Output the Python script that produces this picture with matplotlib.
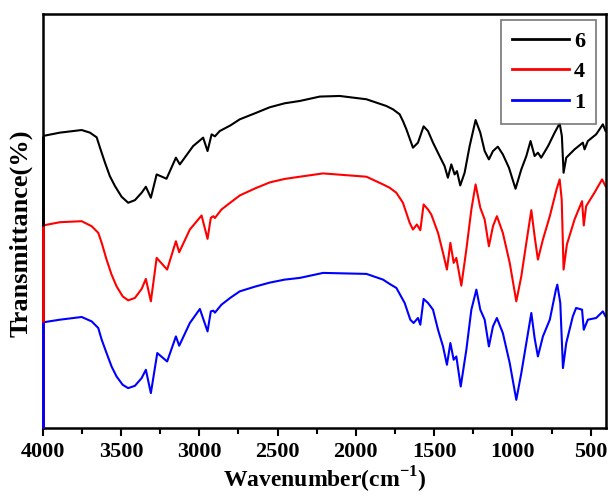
import matplotlib
matplotlib.use('Agg')
import matplotlib.pyplot as plt
from matplotlib.ticker import MultipleLocator

plt.rcParams['font.family'] = ['Liberation Serif', 'DejaVu Serif']
plt.rcParams['font.weight'] = 'bold'
plt.rcParams['mathtext.fontset'] = 'custom'
plt.rcParams['mathtext.rm'] = 'Liberation Serif:bold'
plt.rcParams['mathtext.bf'] = 'Liberation Serif:bold'

# FTIR spectra, transmittance in arbitrary units (curves offset as in the figure)
wn_6 = [4000, 3890, 3751, 3698, 3655, 3634, 3602, 3571, 3538, 3496, 3454, 3411, 3368,
        3341, 3309, 3272, 3209, 3149, 3124, 3039, 2975, 2947, 2921, 2900, 2869, 2800,
        2741, 2644, 2550, 2454, 2358, 2230, 2103, 1932, 1805, 1763, 1720, 1699, 1677,
        1635, 1603, 1567, 1539, 1507, 1465, 1433, 1412, 1390, 1369, 1354, 1333, 1305,
        1273, 1235, 1205, 1177, 1150, 1124, 1093, 1061, 1022, 980, 943, 911, 884, 858,
        837, 816, 772, 730, 698, 684, 673, 656, 603, 550, 539, 518, 465, 422, 405]
t_6 = [291.3, 294.7, 297.3, 294.7, 290, 279.7, 264.7, 251.3, 241.3, 230.7, 224.7, 227.3, 234.7,
       240.7, 229.7, 253, 248.7, 269.7, 263, 281.3, 289.7, 276.3, 293, 291, 296.3, 302,
       308, 314, 320, 324, 326.3, 330.7, 331.3, 328, 321.3, 318, 313, 306.3, 298,
       279.7, 284.7, 301, 296.3, 284.7, 271.3, 261.3, 249.7, 263, 253, 256.3, 242, 254.7,
       281.3, 307.3, 294.7, 276.3, 268, 276.3, 280.7, 273, 259.7, 238.7, 258, 271.3, 286.3, 271.3,
       274.7, 269.7, 281.3, 294.7, 304, 291.3, 254.7, 269.7, 278, 284.7, 278, 286.3, 293, 303, 296.3]

wn_4 = [4000, 3890, 3751, 3687, 3645, 3623, 3592, 3560, 3528, 3489, 3454, 3411, 3368,
        3341, 3309, 3272, 3205, 3149, 3128, 3060, 2985, 2947, 2926, 2910, 2900, 2858,
        2800, 2741, 2644, 2550, 2454, 2358, 2209, 1932, 1826, 1784, 1741, 1699, 1656,
        1635, 1610, 1588, 1567, 1539, 1518, 1475, 1443, 1418, 1396, 1375, 1358, 1326,
        1294, 1262, 1235, 1205, 1177, 1150, 1124, 1099, 1061, 1017, 975, 943, 911, 879,
        858, 837, 805, 761, 718, 698, 685, 673, 652, 603, 555, 544, 529, 476, 427, 405]
t_4 = [202, 205.3, 206.3, 201.3, 194.7, 184.7, 168, 153, 141.3, 131.3, 127.3, 129.7, 138.7,
       148.7, 126.3, 169.7, 158, 186.3, 175.3, 198, 212, 188.7, 209.7, 211.3, 209.5, 218,
       225, 232, 239, 245, 248.5, 250.7, 254, 250.7, 243, 239.7, 234.7, 224.7, 204.7,
       198, 203, 197.3, 223, 218, 213, 194.7, 174.7, 158, 184.7, 164.7, 169.7, 142,
       178, 218, 243, 219.7, 208, 181.3, 201.3, 211.3, 194.7, 164.7, 126.3, 151.3, 184.7, 217.3,
       191.3, 168, 188, 211.3, 238, 248, 228, 158, 183, 208, 226.3, 202, 221.3, 234.7, 248, 241.3]

wn_1 = [4000, 3890, 3751, 3687, 3645, 3623, 3592, 3560, 3528, 3489, 3454, 3411, 3368,
        3341, 3309, 3268, 3205, 3149, 3128, 3060, 2996, 2947, 2926, 2910, 2900, 2858,
        2800, 2741, 2644, 2550, 2454, 2358, 2209, 1932, 1826, 1784, 1741, 1688, 1652,
        1631, 1603, 1588, 1567, 1539, 1507, 1475, 1443, 1418, 1396, 1375, 1358, 1330,
        1294, 1262, 1230, 1205, 1177, 1150, 1124, 1099, 1061, 1017, 975, 943, 911, 879,
        858, 837, 805, 761, 722, 713, 694, 677, 656, 614, 593, 555, 544, 518, 465, 422, 405]
t_1 = [105.3, 108, 110.7, 106.3, 99.7, 88, 74.7, 61.3, 51.3, 43, 39.7, 42, 49.7,
       58, 34.7, 74.7, 66.3, 91.3, 82, 104.7, 118.7, 96.3, 116.3, 117, 115, 123,
       130, 136.3, 141, 145, 148, 149.7, 154.7, 153.7, 148, 143.7, 139.7, 124.7, 108,
       104.7, 109.7, 103, 128.7, 124.7, 118, 98, 81.3, 63, 84.7, 68, 71.3, 41.3,
       78, 118, 138, 118, 108, 81.3, 101.3, 109.7, 94.7, 64.7, 28, 54.7, 84.7, 114.7,
       89.7, 71.3, 91.3, 108, 138, 143, 124.7, 59.7, 84.7, 111.3, 119.7, 118, 98, 108, 109.7, 116.3, 111.3]

labels = ['6', '4', '1']
colors = ['black', 'red', 'blue']

fig = plt.figure(figsize=(6.14, 5.04), dpi=100)
ax = fig.add_axes([0.0695, 0.151, 0.918, 0.821])

for wn, t, lab, c in zip([wn_6, wn_4, wn_1], [t_6, t_4, t_1], labels, colors):
    ax.plot(wn, t, color=c, lw=1.5, label=lab)
    # the original draws each trace down the left axis to the baseline
    ax.vlines(wn[0], 0, t[0], color=c, lw=2, clip_on=False, zorder=3)

ax.set_xlim(4000, 400)
ax.set_ylim(0, 413)
ax.xaxis.set_major_locator(MultipleLocator(500))
ax.xaxis.set_minor_locator(MultipleLocator(250))
ax.tick_params(axis='x', which='major', direction='out', length=6, width=1.5, labelsize=16, pad=4)
ax.tick_params(axis='x', which='minor', direction='out', length=4, width=1.5)
ax.set_yticks([])
for s in ax.spines.values():
    s.set_linewidth(1.8)

ax.set_xlabel('Wavenumber(cm$^{-1}$)', fontsize=17, fontweight='bold', labelpad=2)
ax.set_ylabel('Transmittance(%)', fontsize=19, fontweight='bold')
ax.yaxis.set_label_coords(-0.018, 0.47)

leg = ax.legend(loc='upper right', bbox_to_anchor=(0.982, 0.986), borderaxespad=0,
                fontsize=16, frameon=True, fancybox=False, edgecolor='#555555',
                handlelength=2.6, handletextpad=0.2, labelspacing=0.45, borderpad=0.5)
leg.get_frame().set_linewidth(1.2)
for line in leg.get_lines():
    line.set_linewidth(2)

fig.savefig('out.png', dpi=100)
